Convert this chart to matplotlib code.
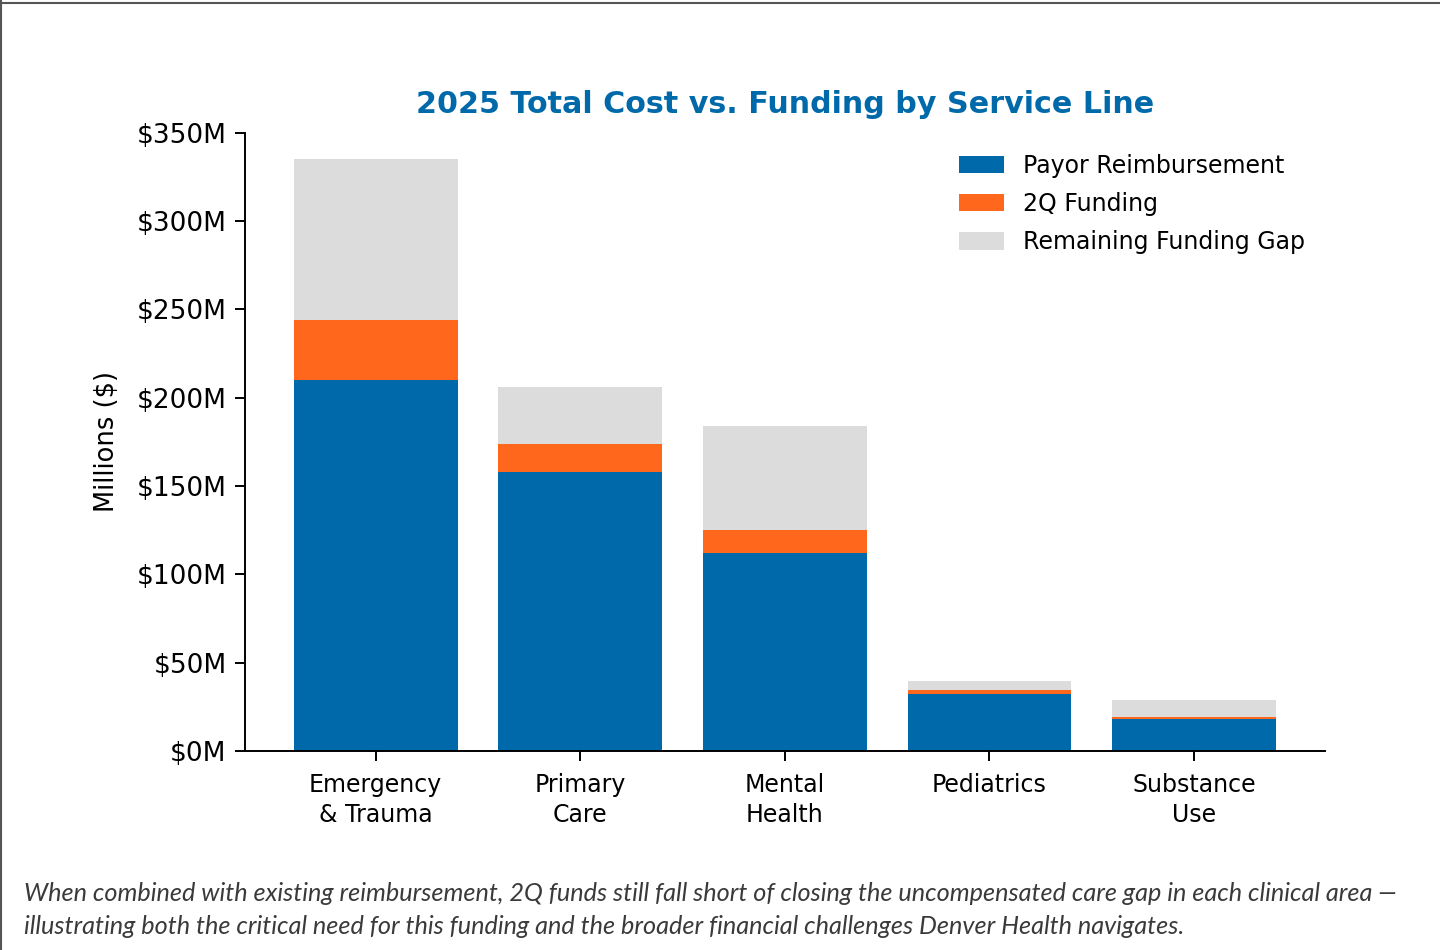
import numpy as np
import matplotlib.pyplot as plt
from matplotlib.lines import Line2D
from matplotlib.ticker import FuncFormatter

# service lines and funding breakdown, $M
service_lines = ["Emergency\n& Trauma", "Primary\nCare", "Mental\nHealth", "Pediatrics", "Substance\nUse"]
payor_reimbursement = [210, 158, 112, 32, 18]
funding_2q = [34, 16, 13, 2.5, 1.5]
remaining_gap = [91, 32, 59, 5, 9.5]

BLUE = "#0069aa"
ORANGE = "#ff671d"
GREY = "#dcdcdc"

fig = plt.figure(figsize=(14.4, 9.5), dpi=100)
ax = fig.add_axes([0.170, 0.2095, 0.750, 0.651])

x = np.arange(len(service_lines))
reimb = np.array(payor_reimbursement)
q2 = np.array(funding_2q)
gap = np.array(remaining_gap)

ax.bar(x, reimb, width=0.8, color=BLUE, label="Payor Reimbursement")
ax.bar(x, q2, width=0.8, bottom=reimb, color=ORANGE, label="2Q Funding")
ax.bar(x, gap, width=0.8, bottom=reimb + q2, color=GREY, label="Remaining Funding Gap")

ax.set_ylim(0, 350)
ax.set_yticks(np.arange(0, 351, 50))
ax.yaxis.set_major_formatter(FuncFormatter(lambda v, _: f"${v:.0f}M"))
ax.set_xticks(x)
ax.set_xticklabels(service_lines, linespacing=1.3)
ax.tick_params(axis="both", length=7, width=1.4, pad=6)
ax.tick_params(axis="y", labelsize=19)
ax.tick_params(axis="x", labelsize=17, pad=9)

for side in ("top", "right"):
    ax.spines[side].set_visible(False)
for side in ("left", "bottom"):
    ax.spines[side].set_linewidth(1.4)

ax.set_ylabel("Millions ($)", fontsize=18.5, labelpad=12)
ax.set_title("2025 Total Cost vs. Funding by Service Line", fontsize=21.7,
             fontweight="bold", color=BLUE, pad=14)

ax.legend(loc="upper right", frameon=False, fontsize=17, handlelength=1.9,
          handleheight=0.75, handletextpad=0.8, labelspacing=0.6,
          bbox_to_anchor=(1.001, 1.0))

caption = ("When combined with existing reimbursement, 2Q funds still fall short of closing the uncompensated care gap in each clinical area \u2014\n"
           "illustrating both the critical need for this funding and the broader financial challenges Denver Health navigates.")
fig.text(0.017, 0.042, caption, fontsize=18.2, style="italic", family=["Lato", "DejaVu Sans"],
         color="#3a3a3a", ha="left", va="center", linespacing=1.5)

# page border along top and left edge
fig.add_artist(Line2D([0, 1], [0.9965, 0.9965], transform=fig.transFigure, color="#555555", lw=1.5))
fig.add_artist(Line2D([0.001, 0.001], [0, 1], transform=fig.transFigure, color="#555555", lw=1.5))

fig.savefig("out.png", dpi=100, facecolor="white")
